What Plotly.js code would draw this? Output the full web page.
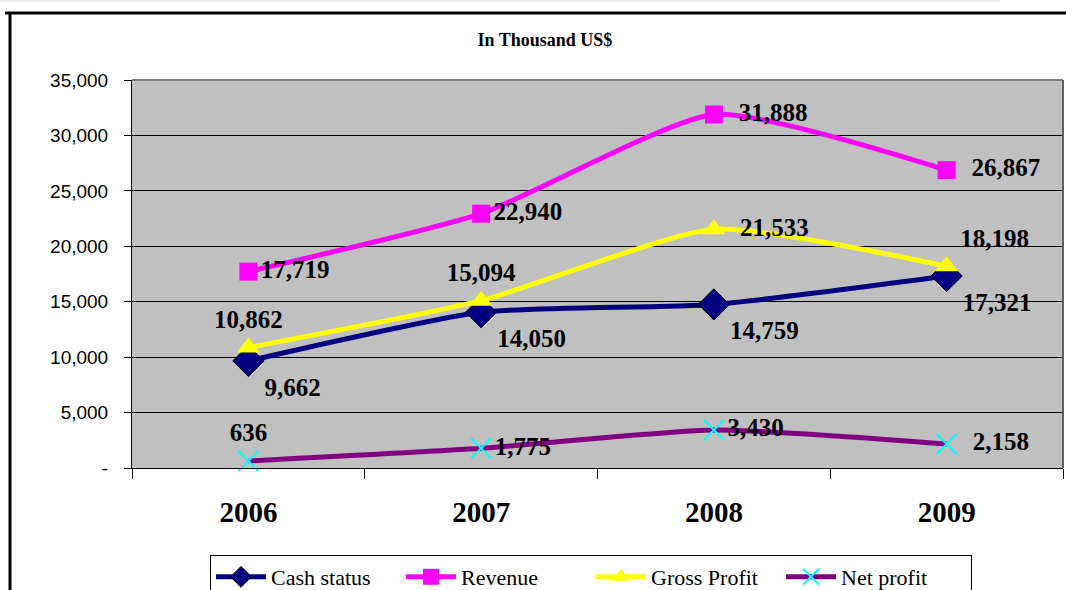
<!DOCTYPE html>
<html>
<head>
<meta charset="utf-8">
<script src="https://cdn.plot.ly/plotly-3.0.1.min.js"></script>
<style>
  html, body { margin: 0; padding: 0; background: #ffffff; }
  #chart { width: 1066px; height: 590px; }
</style>
</head>
<body>
<div id="chart"></div>
<script>
// ---- data ----
const years = ["2006", "2007", "2008", "2009"];
const cashStatus = [9662, 14050, 14759, 17321];
const revenue = [17719, 22940, 31888, 26867];
const grossProfit = [10862, 15094, 21533, 18198];
const netProfit = [636, 1775, 3430, 2158];
const yTickVals = [0, 5000, 10000, 15000, 20000, 25000, 30000, 35000];
const yTickText = ["-", "5,000", "10,000", "15,000", "20,000", "25,000", "30,000", "35,000"];

const labelFont = { family: "Liberation Serif, Times New Roman, serif", size: 25, color: "#000000", weight: "bold" };

function series(name, y, color, symbol, msize, mcolor, positions, templates, mline) {
  return {
    type: "scatter",
    mode: "lines+markers+text",
    name: name,
    x: years,
    y: y,
    line: { color: color, width: 5, shape: "spline", smoothing: 0.55 },
    marker: { symbol: symbol, size: msize, color: mcolor, line: mline || { width: 0 } },
    texttemplate: templates,
    textposition: positions,
    textfont: labelFont,
    cliponaxis: false,
    hoverinfo: "skip"
  };
}

const S = "%{y:,}", S1 = "\u2002%{y:,}";

const traces = [
  series("Cash status", cashStatus, "#000080", "diamond", 24, "#000080",
         ["bottom right", "bottom right", "bottom right", "bottom right"],
         [S, S, S, S],
         { width: 1, color: "#000000" }),
  series("Revenue", revenue, "#FF00FF", "square", 18, "#FF00FF",
         ["middle right", "middle right", "middle right", "middle right"],
         [S, S, S1, S1]),
  series("Gross Profit", grossProfit, "#FFFF00", "triangle-up", 20, "#FFFF00",
         ["top center", "top center", "middle right", "top right"],
         [S, S, S1, S]),
  series("Net profit", netProfit, "#800080", "x-thin", 20, "#00FFFF",
         ["top center", "middle right", "middle right", "middle right"],
         [S, S, S, S1],
         { width: 2, color: "#00FFFF" })
];

// pixel helpers for decoration shapes (plot area: x 132..1063, y 80..468)
const L = 132, R = 1063, T = 80, B = 468;
const px = v => (v - L) / (R - L);
const py = v => (B - v) / (B - T);

const layout = {
  width: 1066,
  height: 590,
  margin: { l: L, r: 1066 - R, t: T, b: 590 - B, pad: 0, autoexpand: false },
  paper_bgcolor: "#ffffff",
  plot_bgcolor: "#C0C0C0",
  showlegend: true,
  title: {
    text: "In Thousand US$",
    font: { family: "Liberation Serif, Times New Roman, serif", size: 18, color: "#000000", weight: "bold" },
    x: px(545), xref: "paper", xanchor: "center",
    y: 1 - 40 / 590, yref: "container", yanchor: "middle"
  },
  xaxis: {
    type: "category",
    range: [-0.5, 3.5],
    showgrid: false,
    showline: true,
    linecolor: "#000000",
    linewidth: 1,
    ticks: "outside",
    tickson: "boundaries",
    ticklen: 10,
    tickcolor: "#000000",
    tickfont: { family: "Liberation Serif, Times New Roman, serif", size: 29, color: "#000000", weight: "bold" },
    ticklabelstandoff: 18,
    fixedrange: true,
    zeroline: false
  },
  yaxis: {
    range: [0, 35000],
    tickvals: yTickVals,
    ticktext: yTickText,
    showgrid: true,
    gridcolor: "#000000",
    gridwidth: 1,
    showline: true,
    linecolor: "#000000",
    linewidth: 1,
    ticks: "outside",
    ticklen: 7,
    tickcolor: "#000000",
    tickfont: { family: "Liberation Sans, Arial, sans-serif", size: 19, color: "#000000" },
    ticklabelstandoff: 12,
    zeroline: false,
    fixedrange: true
  },
  legend: {
    orientation: "h",
    x: px(591), xanchor: "center",
    y: py(555), yanchor: "top",
    bgcolor: "#ffffff",
    bordercolor: "#000000",
    borderwidth: 1,
    font: { family: "Liberation Serif, Times New Roman, serif", size: 22, color: "#000000" },
    itemwidth: 50,
    entrywidth: 125,
    tracegroupgap: 0
  },
  shapes: [
    { type: "line", xref: "paper", yref: "paper", x0: 0, x1: 1, y0: 1, y1: 1, line: { color: "#808080", width: 2 } },
    { type: "line", xref: "paper", yref: "paper", x0: 1, x1: 1, y0: 0, y1: 1, line: { color: "#606060", width: 2 } },
    { type: "line", xref: "paper", yref: "paper", x0: px(5), x1: px(1070), y0: py(13), y1: py(13), line: { color: "#000000", width: 3 } },
    { type: "line", xref: "paper", yref: "paper", x0: px(10), x1: px(10), y0: py(13), y1: py(595), line: { color: "#000000", width: 3 } },
    { type: "line", xref: "paper", yref: "paper", x0: px(0), x1: px(1000), y0: py(1), y1: py(1), line: { color: "#dddddd", width: 1 } }
  ]
};

Plotly.newPlot("chart", traces, layout, { staticPlot: true, displayModeBar: false });
</script>
</body>
</html>
